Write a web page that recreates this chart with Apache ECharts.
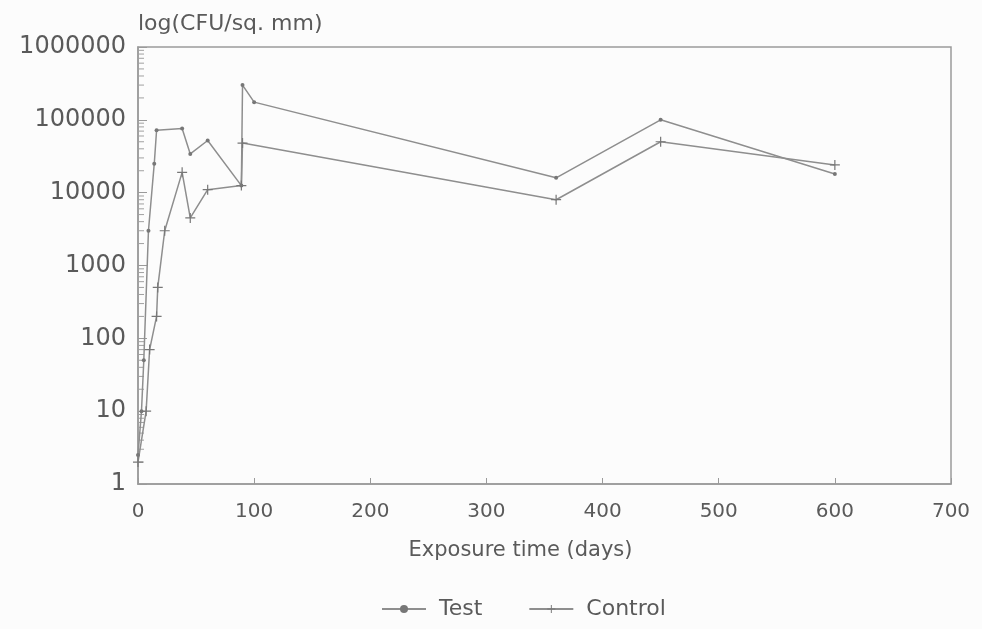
<!DOCTYPE html>
<html>
<head>
<meta charset="utf-8">
<script src="https://cdn.jsdelivr.net/npm/echarts@6/dist/echarts.min.js"></script>
<style>
html,body{margin:0;padding:0;background:#fcfcfc;}
#chart{width:982px;height:629px;}
</style>
</head>
<body>
<div id="chart"></div>
<script>
// ---- data ----
const testDays    = [0, 3, 5, 9, 14, 16, 38, 45, 60, 89, 90, 100, 360, 450, 600];
const testValues  = [2.5, 10, 50, 3000, 25000, 72000, 76000, 34000, 52000, 12500, 300000, 175000, 16000, 100000, 18000];
const controlDays   = [0, 7, 10, 16, 17, 23, 38, 45, 60, 89, 90, 360, 450, 600];
const controlValues = [2, 10, 70, 200, 500, 3000, 19000, 4500, 11000, 12500, 48000, 8000, 50000, 24000];
const xTicks = [0, 100, 200, 300, 400, 500, 600, 700];
const yTicks = [1, 10, 100, 1000, 10000, 100000, 1000000];
const seriesNames = ['Test', 'Control'];
const yTitle = 'log(CFU/sq. mm)';
const xTitle = 'Exposure time (days)';

// minor log ticks (2..9 x 10^k)
const minorVals = [];
for (let k = 0; k < yTicks.length - 1; k++) {
  for (let m = 2; m <= 9; m++) minorVals.push([0, m * yTicks[k]]);
}

const grey = '#8e8e8e';
const textGrey = '#5a5a5a';
const font = 'DejaVu Sans';

const chart = echarts.init(document.getElementById('chart'), null, {renderer: 'canvas'});
chart.setOption({
  backgroundColor: '#fcfcfc',
  animation: false,
  grid: {left: 138, right: 31, top: 47, bottom: 145, show: true, borderColor: '#9a9a9a', borderWidth: 1.5, backgroundColor: 'transparent'},
  legend: {
    bottom: 4, left: 376,
    itemWidth: 44, itemHeight: 10, itemGap: 46,
    data: seriesNames,
    textStyle: {fontFamily: font, fontSize: 22, color: textGrey, padding: [0, 0, 0, 8]}
  },
  xAxis: {
    type: 'value', min: xTicks[0], max: xTicks[xTicks.length - 1], interval: 100,
    name: xTitle, nameLocation: 'middle', nameGap: 56,
    nameTextStyle: {fontFamily: font, fontSize: 21, color: textGrey, padding: [0, 48, 0, 0]},
    axisLine: {lineStyle: {color: '#9a9a9a', width: 1.5}},
    axisTick: {inside: true, length: 6, lineStyle: {color: '#9a9a9a'}},
    axisLabel: {fontFamily: font, fontSize: 20, color: textGrey, margin: 18},
    splitLine: {show: false}
  },
  yAxis: {
    type: 'log', logBase: 10, min: yTicks[0], max: yTicks[yTicks.length - 1],
    name: yTitle, nameLocation: 'end', nameGap: 12,
    nameTextStyle: {fontFamily: font, fontSize: 22, color: textGrey, align: 'left'},
    axisLine: {lineStyle: {color: '#9a9a9a', width: 1.5}},
    axisTick: {inside: true, length: 9, lineStyle: {color: '#9a9a9a'}},
    axisLabel: {fontFamily: font, fontSize: 24, color: textGrey, margin: 12,
      formatter: v => String(Math.round(v))},
    splitLine: {show: false}
  },
  series: [
    {
      name: seriesNames[0], type: 'line',
      data: testDays.map((d, i) => [d, testValues[i]]),
      symbol: 'circle', symbolSize: 4,
      lineStyle: {color: grey, width: 1.5},
      itemStyle: {color: '#777'}
    },
    {
      name: seriesNames[1], type: 'line',
      data: controlDays.map((d, i) => [d, controlValues[i]]),
      symbol: 'path://M0,4.4H10V5.6H0Z M4.4,0H5.6V10H4.4Z', symbolSize: 10,
      lineStyle: {color: grey, width: 1.5},
      itemStyle: {color: '#777'}
    },
    {
      name: 'minorTicks', type: 'custom', silent: true,
      data: minorVals,
      renderItem: (params, api) => {
        const p = api.coord([api.value(0), api.value(1)]);
        return {type: 'line', shape: {x1: p[0], y1: p[1], x2: p[0] + 6, y2: p[1]},
          style: {stroke: '#a0a0a0', lineWidth: 1}};
      },
      clip: false, z: 1
    }
  ]
});
</script>
</body>
</html>
